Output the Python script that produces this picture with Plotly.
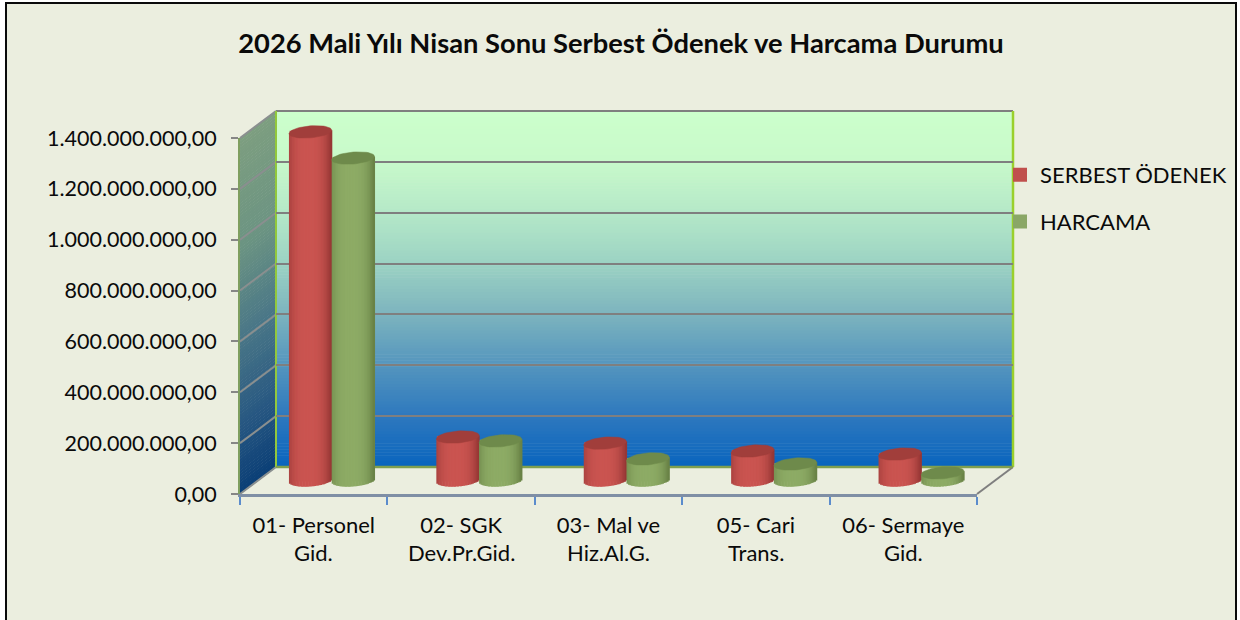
import math
import plotly.graph_objects as go

TITLE = "2026 Mali Yılı Nisan Sonu Serbest Ödenek ve Harcama Durumu"
CAT_LINE1 = ["01- Personel", "02- SGK", "03- Mal ve", "05- Cari", "06- Sermaye"]
CAT_LINE2 = ["Gid.", "Dev.Pr.Gid.", "Hiz.Al.G.", "Trans.", "Gid."]
SERBEST_ODENEK = [1371e6, 171e6, 147e6, 116e6, 104e6]
HARCAMA = [1268e6, 156e6, 85e6, 65e6, 30e6]
Y_MAX = 1400000000
Y_STEP = 200000000

W, H = 1240, 620
FONT = "Lato, Carlito, Calibri, sans-serif"
BG = "#ebeedf"

def px(x): return x / W
def py(y): return 1 - y / H

# plot geometry (pixels)
FX0, FX1, FY0, FY1 = 240, 977, 138, 494      # front plane
DX, DY = 36, 27                              # depth of the box
V_PER_PX = Y_MAX / (FY1 - FY0)

def mix(a, b, t):
    return tuple(a[i] + (b[i] - a[i]) * t for i in range(3))
def rgb(c):
    return "rgb(%d,%d,%d)" % tuple(round(v) for v in c)

WALL_STOPS = [(0.0, (204, 255, 204)), (0.14, (200, 250, 202)), (0.29, (180, 232, 200)), (0.43, (155, 210, 195)),
              (0.57, (125, 180, 190)), (0.71, (85, 150, 190)), (0.86, (45, 120, 190)), (1.0, (8, 100, 190))]
SIDE_STOPS = [(0.0, (125, 158, 128)), (0.3, (108, 148, 130)), (0.55, (75, 120, 135)),
              (0.8, (40, 88, 130)), (1.0, (10, 62, 118))]
def grad(stops, t):
    for (t0, c0), (t1, c1) in zip(stops, stops[1:]):
        if t <= t1:
            return mix(c0, c1, (t - t0) / (t1 - t0))
    return stops[-1][1]

shapes = []
def pshape(**k):
    shapes.append(dict(xref="paper", yref="paper", layer="below", **k))
def pline(x0, y0, x1, y1, color, width=2):
    pshape(type="line", x0=px(x0), y0=py(y0), x1=px(x1), y1=py(y1), line=dict(color=color, width=width))

# frame
pshape(type="rect", x0=px(6), y0=py(3), x1=px(1236), y1=py(622), fillcolor=BG, line=dict(color="#0a0a0a", width=2))

# walls as gradient slices
BX0, BX1, BY0, BY1 = FX0 + DX, FX1 + DX, FY0 - DY, FY1 - DY
N = 120
sl = (BY1 - BY0) / N
for i in range(N):
    t = (i + .5) / N
    y0, y1 = BY0 + i * sl, BY0 + (i + 1) * sl + .6
    pshape(type="rect", x0=px(BX0), x1=px(BX1), y0=py(y0), y1=py(y1), fillcolor=rgb(grad(WALL_STOPS, t)), line=dict(width=0))
    p = "M%f,%f L%f,%f L%f,%f L%f,%f Z" % (px(FX0), py(y0 + DY), px(BX0), py(y0), px(BX0), py(y1), px(FX0), py(y1 + DY))
    pshape(type="path", path=p, fillcolor=rgb(grad(SIDE_STOPS, t)), line=dict(width=0))

GRID = "#7f7f7f"
for k in range(0, Y_MAX + 1, Y_STEP):
    yy = FY1 - k / V_PER_PX
    pline(FX0, yy, BX0, yy - DY, "#8a8f8f", 2)
pline(FX1, FY1, BX1, BY1, GRID)
pline(BX0, BY0, BX1, BY0, GRID)
pline(BX0, BY0, BX0, BY1, "#92c83c")
pline(BX1, BY0, BX1, BY1, "#9ad02c", 2.5)
pline(BX0, BY1, BX1, BY1, "#7f9f50", 2.5)

fig = go.Figure()

# back-wall subplot: carries the gridlines only
fig.add_trace(go.Scatter(x=[0], y=[0], xaxis="x", yaxis="y", mode="markers", marker=dict(opacity=0),
                         showlegend=False, hoverinfo="skip"))

# cylinders
HALF_W = 0.145              # half a cylinder, in category units
EL_H = 6 * V_PER_PX         # half height of the end ellipses
TILT = 1.7 * V_PER_PX       # ellipses rise slightly to the right
STRIPS = 29
positions = list(range(5))
PAD = 20                    # bar plane extends past the axis range so the ellipses fit

def cylinder(name, values, side, base_col, dark, light, cap):
    centre = side * HALF_W
    fig.add_trace(go.Bar(name=name, x=positions, y=values, width=HALF_W * 1.85, offset=centre - HALF_W * .925,
                         marker=dict(color=base_col, line=dict(width=2, color=base_col)),
                         xaxis="x2", yaxis="y2", cliponaxis=False, legendgroup=name, hoverinfo="skip"))
    for s in range(STRIPS):
        t0 = -1 + 2 * s / STRIPS
        t1 = -1 + 2 * (s + 1) / STRIPS
        t = (t0 + t1) / 2
        f = max(0.0, 1 - abs((t + 0.1) / 1.05) ** 3)
        lower = [-EL_H * math.sqrt(max(0, 1 - t * t)) + TILT * t] * 5
        top = [v + TILT * t for v in values]
        fig.add_trace(go.Bar(x=positions, y=[a - b for a, b in zip(top, lower)], base=lower,
                             width=(t1 - t0) * HALF_W * 1.4, offset=centre + t0 * HALF_W,
                             marker=dict(color=rgb(mix(dark, light, f)), line=dict(width=0)),
                             xaxis="x2", yaxis="y2", cliponaxis=False, showlegend=False, hoverinfo="skip"))
    xs, ys = [], []
    for p, v in zip(positions, values):
        for a in range(49):
            th = 2 * math.pi * a / 48
            c = math.cos(th)
            xs.append(p + centre + HALF_W * c)
            ys.append(v + EL_H * math.sin(th) + TILT * c)
        xs.append(None); ys.append(None)
    fig.add_trace(go.Scatter(x=xs, y=ys, mode="lines", fill="toself", fillcolor=cap, line=dict(width=0.5, color=cap),
                             xaxis="x2", yaxis="y2", cliponaxis=False, showlegend=False, hoverinfo="skip"))

cylinder("SERBEST ÖDENEK", SERBEST_ODENEK, -1, "#c0504d", (150, 55, 53), (202, 84, 80), "#a13e3b")
cylinder("HARCAMA", HARCAMA, 1, "#8aa766", (105, 130, 70), (141, 171, 101), "#6e8a4b")

# front axes: labels and ticks
fig.add_trace(go.Scatter(x=CAT_LINE1, y=[0] * 5, xaxis="x3", yaxis="y3", mode="markers", marker=dict(opacity=0),
                         showlegend=False, hoverinfo="skip"))

annotations = [dict(x=c, y=py(552), xref="x3", yref="paper", text=t, showarrow=False,
                    font=dict(family=FONT, size=22, color="#0a0a0a"), yanchor="middle")
               for c, t in zip(CAT_LINE1, CAT_LINE2)]

dom_x = lambda a, b: [px(a), px(b)]
dom_y = lambda a, b: [py(b), py(a)]
fig.update_layout(
    width=W, height=H, autosize=False, margin=dict(l=0, r=0, t=0, b=0, autoexpand=False),
    paper_bgcolor="white", plot_bgcolor="rgba(0,0,0,0)", separators=",.",
    barmode="overlay", shapes=shapes, annotations=annotations,
    title=dict(text="<b>" + TITLE + "</b>", x=621 / W, xanchor="center", y=py(43), yanchor="middle",
               font=dict(family=FONT, size=27.3, color="#0a0a0a")),
    legend=dict(x=px(1000), y=py(154), xanchor="left", yanchor="top", bgcolor="rgba(0,0,0,0)", tracegroupgap=15,
                font=dict(family=FONT, size=22, color="#0a0a0a"), itemclick=False, itemdoubleclick=False),
    xaxis=dict(domain=dom_x(BX0, BX1), range=[-0.5, 4.5], anchor="y", showticklabels=False, ticks="", showgrid=False, zeroline=False),
    yaxis=dict(domain=dom_y(BY0, BY1), range=[0, Y_MAX], dtick=Y_STEP, anchor="x", showticklabels=False, ticks="",
               showgrid=True, gridcolor=GRID, gridwidth=2, zeroline=False),
    xaxis2=dict(domain=dom_x(FX0 + DX / 2, FX1 + DX / 2), range=[-0.5, 4.5], anchor="y2", visible=False),
    yaxis2=dict(domain=dom_y(FY0 - DY / 2 - PAD, FY1 - DY / 2 + PAD),
                range=[-PAD * V_PER_PX, Y_MAX + PAD * V_PER_PX], anchor="x2", visible=False),
    xaxis3=dict(domain=dom_x(FX0, FX1), type="category", categoryarray=CAT_LINE1, range=[-0.5, 4.5], anchor="y3",
                tickson="boundaries", ticks="outside", ticklen=8, tickwidth=2, tickcolor="#5b8ccc",
                showline=True, linecolor="#7f8fa5", linewidth=2.5, showgrid=False, zeroline=False,
                tickfont=dict(family=FONT, size=22, color="#0a0a0a"), ticklabelstandoff=10),
    yaxis3=dict(domain=dom_y(FY0, FY1), range=[0, Y_MAX], dtick=Y_STEP, tickformat=",.2f", anchor="x3",
                ticks="outside", ticklen=7, tickwidth=2, tickcolor="#868686", showline=True, linecolor="#7f9f60",
                linewidth=2, showgrid=False, zeroline=False, tickfont=dict(family=FONT, size=21.5, color="#0a0a0a"),
                ticklabelstandoff=10),
)
fig.write_html("out.html", config=dict(displayModeBar=False),
               post_script="document.body.style.margin='0';document.documentElement.style.overflow='hidden';")
